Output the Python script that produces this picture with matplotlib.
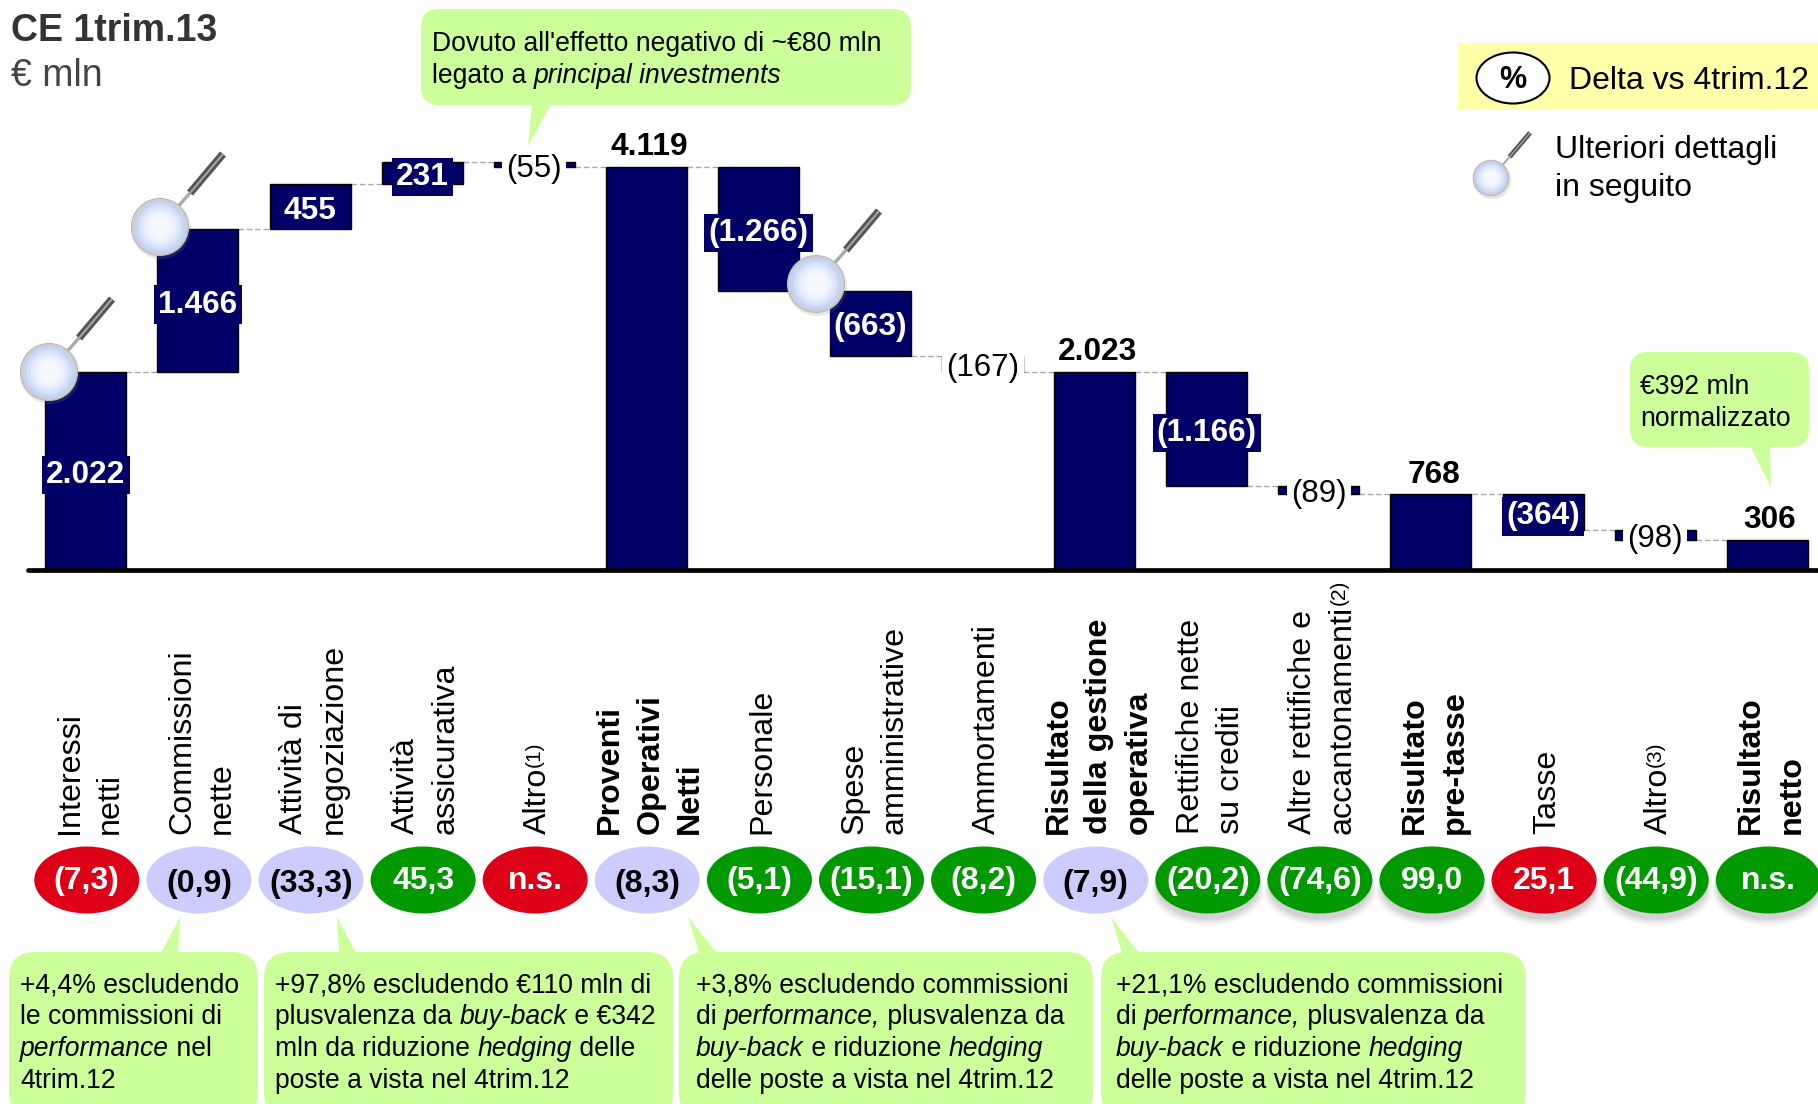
import matplotlib
matplotlib.use('Agg')
import matplotlib.pyplot as plt
from matplotlib.patches import Ellipse, FancyBboxPatch, Polygon, Rectangle

# ---------- data ----------
categories = [
    ['Interessi', 'netti'], ['Commissioni', 'nette'], ['Attività di', 'negoziazione'],
    ['Attività', 'assicurativa'], ['Altro'], ['Proventi', 'Operativi', 'Netti'],
    ['Personale'], ['Spese', 'amministrative'], ['Ammortamenti'],
    ['Risultato', 'della gestione', 'operativa'], ['Rettifiche nette', 'su crediti'],
    ['Altre rettifiche e', 'accantonamenti'], ['Risultato', 'pre-tasse'], ['Tasse'],
    ['Altro'], ['Risultato', 'netto'],
]
footnotes = ['', '', '', '', '(1)', '', '', '', '', '', '', '(2)', '', '', '(3)', '']
values = [2022, 1466, 455, 231, -55, 4119, -1266, -663, -167, 2023, -1166, -89, 768, -364, -98, 306]
is_total = [False, False, False, False, False, True, False, False, False, True,
            False, False, True, False, False, True]
delta_labels = ['(7,3)', '(0,9)', '(33,3)', '45,3', 'n.s.', '(8,3)', '(5,1)', '(15,1)', '(8,2)',
                '(7,9)', '(20,2)', '(74,6)', '99,0', '25,1', '(44,9)', 'n.s.']
delta_status = ['red', 'lav', 'lav', 'green', 'red', 'lav', 'green', 'green', 'green',
                'lav', 'green', 'green', 'green', 'red', 'green', 'green']

NAVY = '#000066'
GREEN_NOTE = '#CCFF99'
STATUS = {'red': '#DD0016', 'lav': '#CCCCFF', 'green': '#009900'}
FONT = 'Liberation Sans'
plt.rcParams['font.family'] = FONT

W, H = 1818, 1104
fig = plt.figure(figsize=(W / 100, H / 100), dpi=100, facecolor='white')

# chart axes: category index / € mln, mapped on the whole figure
X0, XSTEP, BAR_W = 85.8, 112.1, 81 / 112.1
Y0, YSCALE = 569.5, 0.0977
ax = fig.add_axes([0, 0, 1, 1])
ax.set_xlim(-X0 / XSTEP, (W - X0) / XSTEP)
ax.set_ylim((Y0 - H) / YSCALE, Y0 / YSCALE)
ax.axis('off')

# pixel overlay for annotations
ov = fig.add_axes([0, 0, 1, 1], zorder=5)
ov.set_xlim(0, W)
ov.set_ylim(H, 0)
ov.axis('off')
ov.patch.set_alpha(0)
renderer = fig.canvas.get_renderer()


def fmt(v):
    s = f'{abs(v):,}'.replace(',', '.')
    return f'({s})' if v < 0 else s


# ---------- waterfall ----------
bottoms, tops, level = [], [], 0
for v, total in zip(values, is_total):
    if total:
        bottoms.append(0); tops.append(v); level = v
    else:
        new = level + v
        bottoms.append(min(level, new)); tops.append(max(level, new)); level = new

levels_after = []
lev = 0
for v, total in zip(values, is_total):
    lev = v if total else lev + v
    levels_after.append(lev)

ax.bar(range(len(values)), [t - b for t, b in zip(tops, bottoms)], bottom=bottoms, width=BAR_W,
       color=NAVY, edgecolor='black', linewidth=1, zorder=3)
for i, l in enumerate(levels_after[:-1]):
    ax.plot([i + BAR_W / 2, i + 1 - BAR_W / 2], [l, l], color='#AAAAAA', lw=1,
            ls=(0, (4, 2)), zorder=2)
ax.plot([-0.52, (W - X0) / XSTEP], [-8, -8], color='black', lw=3.4, solid_capstyle='round', zorder=4)

for i, v in enumerate(values):
    mid = (tops[i] + bottoms[i]) / 2
    if is_total[i]:
        ax.annotate(fmt(v), (i, tops[i]), xytext=(2, 8.5), textcoords='offset points', ha='center',
                    va='baseline', fontsize=22.8, fontweight='bold', color='black', zorder=6)
    elif abs(v) < 200:
        ax.annotate(fmt(v), (i, mid), xytext=(0, -3), textcoords='offset points', ha='center',
                    va='center', fontsize=22.5, color='black', zorder=6,
                    bbox=dict(fc='white', ec='none', pad=3.2))
    else:
        ax.annotate(fmt(v), (i, mid), xytext=(0, -3), textcoords='offset points', ha='center',
                    va='center', fontsize=22.8, fontweight='bold', color='white', zorder=6,
                    bbox=dict(fc=NAVY, ec='none', pad=3.0))

# ---------- categories ----------
CAT_SIZE, SUP_SIZE, LINE_GAP = 23.2, 15, 40
for i, lines in enumerate(categories):
    cx = X0 + XSTEP * i + 1
    n = len(lines)
    for k, line in enumerate(lines):
        bx = cx + (k - (n - 1) / 2) * LINE_GAP + 11
        weight = 'bold' if is_total[i] else 'normal'
        t = ov.text(bx, 834, line, rotation=90, rotation_mode='anchor', ha='left', va='baseline',
                    fontsize=CAT_SIZE, fontweight=weight, color='black')
        if k == n - 1 and footnotes[i]:
            ext = t.get_window_extent(renderer)
            ov.text(bx - 6, 834 - ext.height - 1, footnotes[i], rotation=90, rotation_mode='anchor',
                    ha='left', va='baseline', fontsize=SUP_SIZE, color='black')

# ---------- delta bubbles ----------
for i, (lab, st) in enumerate(zip(delta_labels, delta_status)):
    cx = X0 + XSTEP * i + 1
    if i >= 10:
        for a, (dw, dy) in zip([0.03, 0.04, 0.05, 0.06], [(10, 12), (7, 10), (4, 8), (1, 6)]):
            ov.add_patch(Ellipse((cx, 880 + dy), 102 + dw, 67, fc='black', ec='none', alpha=a, zorder=1))
    ov.add_patch(Ellipse((cx, 880), 105, 67, fc=STATUS[st], ec='none', zorder=2))
    col = 'black' if st == 'lav' else 'white'
    ov.text(cx, 892 if st == 'lav' else 889, lab, ha='center', va='baseline', fontsize=23,
            fontweight='bold', color=col, zorder=3)


# ---------- helpers ----------
def width(s, **kw):
    a = ov.text(0, 0, s + '|', **kw); b = ov.text(0, 0, '|', **kw)
    w = a.get_window_extent(renderer).width - b.get_window_extent(renderer).width
    a.remove(); b.remove()
    return w


def runs(x, y, parts, size=19.1, color='black'):
    for s, it in parts:
        kw = dict(fontsize=size, style='italic' if it else 'normal')
        ov.text(x, y, s, ha='left', va='baseline', color=color, zorder=8, **kw)
        x += width(s, **kw)


def note(x0, y0, x1, y1, tail, lines, tx, ty, step=32, r=18):
    ov.add_patch(FancyBboxPatch((x0 + r, y0 + r), x1 - x0 - 2 * r, y1 - y0 - 2 * r,
                                boxstyle=f'round,pad={r},rounding_size={r}', fc=GREEN_NOTE, ec='none', zorder=7))
    ov.add_patch(Polygon(tail, closed=True, fc=GREEN_NOTE, ec='none', zorder=7))
    for k, parts in enumerate(lines):
        runs(tx, ty + k * step, parts)


def magnifier(cx, cy, s=1.0):
    ex, ey = cx + 63 * s, cy - 73 * s
    mx, my = cx + 30 * s, cy - 34 * s
    ov.plot([cx, mx], [cy, my], color='#AAAAAA', lw=2.4 * s, zorder=9, solid_capstyle='butt')
    ov.plot([mx, ex], [my, ey], color='#555555', lw=5.6 * s, zorder=9, solid_capstyle='butt')
    ov.plot([mx, ex], [my, ey], color='#A8A8A8', lw=1.4 * s, zorder=9, solid_capstyle='butt')
    r = 28.5 * s
    ov.add_patch(Ellipse((cx + 1, cy + 2), 2 * r + 3, 2 * r + 3, fc='#888888', ec='none', alpha=0.2, zorder=9))
    ov.add_patch(Ellipse((cx, cy), 2 * r, 2 * r, fc='#CFCFCF', ec='#B8B8B8', lw=0.8, zorder=9))
    shades = ['#C4D5F8', '#D3E0FA', '#E0E9FC', '#E9EFFD', '#F1F5FE', '#F6F8FF']
    for k, c in enumerate(shades):
        d = 2 * r * (0.90 - k * 0.11)
        ov.add_patch(Ellipse((cx, cy), d, d, fc=c, ec='none', zorder=9))


# ---------- notes ----------
note(421, 9, 911, 105, [(532, 104), (551, 104), (528, 146)],
     [[("Dovuto all'effetto negativo di ~€80 mln", False)],
      [('legato a ', False), ('principal investments', True)]], 432, 51, step=32)
note(1630, 352, 1809, 447, [(1750, 446), (1770, 446), (1771, 487)],
     [[('€392 mln', False)], [('normalizzato', False)]], 1640, 394, step=32)
BR = 26
note(9, 952, 258, 1118, [(161, 953), (178, 953), (180, 917)],
     [[('+4,4% escludendo', False)], [('le commissioni di', False)],
      [('performance', True), (' nel', False)], [('4trim.12', False)]], 20, 992, r=BR)
note(264, 952, 673, 1118, [(339, 953), (356, 953), (337, 917)],
     [[('+97,8% escludendo €110 mln di', False)],
      [('plusvalenza da ', False), ('buy-back', True), (' e €342', False)],
      [('mln da riduzione ', False), ('hedging', True), (' delle', False)],
      [('poste a vista nel 4trim.12', False)]], 275, 992, r=BR)
note(679, 952, 1093, 1118, [(699, 953), (717, 953), (688, 917)],
     [[('+3,8% escludendo commissioni', False)],
      [('di ', False), ('performance,', True), (' plusvalenza da', False)],
      [('buy-back', True), (' e riduzione ', False), ('hedging', True)],
      [('delle poste a vista nel 4trim.12', False)]], 696, 992, r=BR)
note(1101, 952, 1526, 1118, [(1122, 953), (1139, 953), (1111, 917)],
     [[('+21,1% escludendo commissioni', False)],
      [('di ', False), ('performance,', True), (' plusvalenza da', False)],
      [('buy-back', True), (' e riduzione ', False), ('hedging', True)],
      [('delle poste a vista nel 4trim.12', False)]], 1116, 992, r=BR)

# ---------- title ----------
ov.text(11, 41, 'CE 1trim.13', fontsize=27, fontweight='bold', color='#333333', va='baseline')
ov.text(11, 86, '€ mln', fontsize=27, color='#444444', va='baseline')

# ---------- legend ----------
ov.add_patch(Rectangle((1458, 43), 360, 67, fc='#FFFFAA', ec='none'))
ov.add_patch(Ellipse((1513, 78), 73, 51, fc='white', ec='black', lw=1.5))
ov.text(1513, 88, '%', fontsize=22, fontweight='bold', ha='center', va='baseline')
ov.text(1569, 89, 'Delta vs 4trim.12', fontsize=23, va='baseline')
ov.text(1555, 158, 'Ulteriori dettagli', fontsize=23, va='baseline')
ov.text(1555, 196, 'in seguito', fontsize=23, va='baseline')

magnifier(49, 372)
magnifier(160, 227)
magnifier(816, 284)
magnifier(1491, 178, 0.62)

fig.savefig('out.png', dpi=100)
